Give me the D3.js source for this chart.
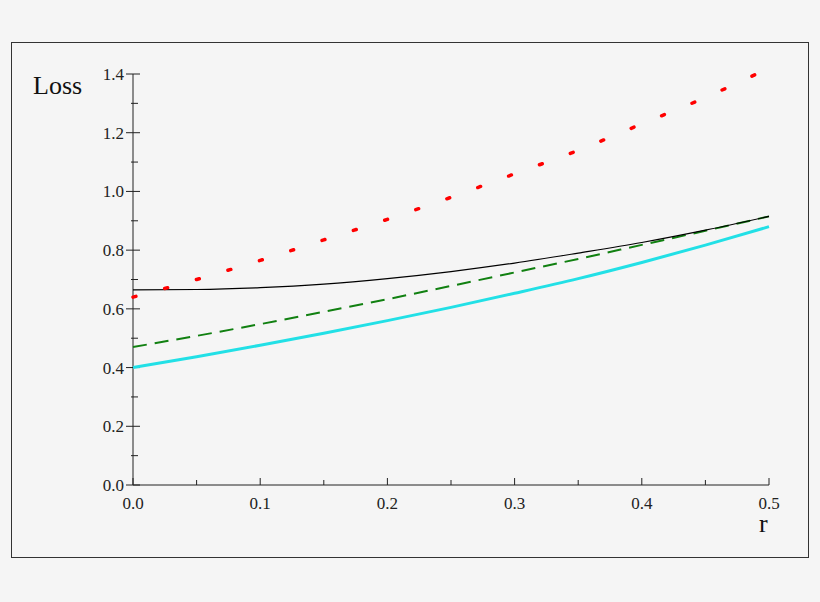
<!DOCTYPE html>
<html><head><meta charset="utf-8">
<script src="https://cdn.jsdelivr.net/npm/d3@7"></script>
<style>body{margin:0;background:#f5f5f5}svg{display:block}</style>
</head><body><svg id="c" width="820" height="602"></svg>
<script>
const rVals=[0,0.05,0.1,0.15,0.2,0.25,0.3,0.35,0.4,0.45,0.5];
const redDotted=[0.64,0.70,0.765,0.835,0.905,0.98,1.06,1.14,1.23,1.32,1.42];
const blackSolid=[0.665,0.666,0.672,0.684,0.703,0.727,0.756,0.79,0.826,0.868,0.915];
const greenDashed=[0.47,0.508,0.548,0.59,0.633,0.678,0.724,0.77,0.818,0.866,0.915];
const cyanSolid=[0.40,0.437,0.476,0.517,0.56,0.605,0.653,0.703,0.758,0.817,0.88];
const xTicks=[0,0.1,0.2,0.3,0.4,0.5];
const yTicks=[0,0.2,0.4,0.6,0.8,1.0,1.2,1.4];

const svg=d3.select("#c");
svg.append("rect").attr("x",11.5).attr("y",42.5).attr("width",797).attr("height",515)
  .attr("fill","none").attr("stroke","#333").attr("stroke-width",1);
const x=d3.scaleLinear().domain([0,0.5]).range([133,769]);
const y=d3.scaleLinear().domain([0,1.4]).range([485,74]);
const font="'Liberation Serif', 'Times New Roman', serif";

svg.append("line").attr("x1",x(0)).attr("x2",x(0.5)).attr("y1",y(0)).attr("y2",y(0)).attr("stroke","#222");
svg.append("line").attr("x1",x(0)).attr("x2",x(0)).attr("y1",y(0)).attr("y2",y(1.4)).attr("stroke","#222");
d3.range(0,15).forEach(i=>{const v=i/10,maj=i%2===0;
  svg.append("line").attr("x1",x(0)-(maj?7:2)).attr("x2",x(0)+(maj?7:5)).attr("y1",y(v)).attr("y2",y(v)).attr("stroke","#222");});
d3.range(0,11).forEach(i=>{const v=i/20,maj=i%2===0;
  svg.append("line").attr("x1",x(v)).attr("x2",x(v)).attr("y1",y(0)).attr("y2",y(0)-(maj?7:5)).attr("stroke","#222");});
svg.selectAll(".yl").data(yTicks).join("text").attr("x",x(0)-9).attr("y",d=>y(d)+6)
  .attr("text-anchor","end").attr("font-family",font).attr("font-size",17).attr("fill","#222").text(d=>d.toFixed(1));
svg.selectAll(".xl").data(xTicks).join("text").attr("x",d=>x(d)).attr("y",y(0)+24)
  .attr("text-anchor","middle").attr("font-family",font).attr("font-size",17).attr("fill","#222").text(d=>d.toFixed(1));
svg.append("text").attr("x",33).attr("y",94).attr("font-family",font).attr("font-size",26).attr("fill","#111").text("Loss");
svg.append("text").attr("x",759).attr("y",532).attr("font-family",font).attr("font-size",26).attr("fill","#111").text("r");

const line=d3.line().x((d,i)=>x(rVals[i])).y(d=>y(d)).curve(d3.curveMonotoneX);
function draw(data,color,w,dash,cap){
  svg.append("path").attr("d",line(data)).attr("fill","none").attr("stroke",color)
   .attr("stroke-width",w).attr("stroke-dasharray",dash).attr("stroke-linecap",cap||"butt");}
draw(cyanSolid,"#22e0e6",3,null);
draw(greenDashed,"#118011",2,"14,8");
draw(blackSolid,"#000",1.2,null);
draw(redDotted,"#ff0000",3.5,"3,29.9","round");
</script></body></html>
